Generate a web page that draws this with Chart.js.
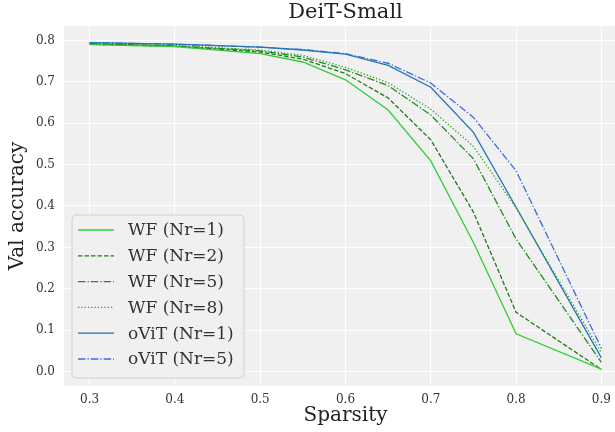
<!DOCTYPE html>
<html>
<head>
<meta charset="utf-8">
<script src="https://cdn.jsdelivr.net/npm/chart.js@4/dist/chart.umd.min.js"></script>
<style>
  html, body { margin: 0; padding: 0; background: #fff; overflow: hidden; }
  #wrap { width: 615px; height: 432px; overflow: hidden; }
</style>
</head>
<body>
<div id="wrap"><canvas id="chart" width="631" height="432"></canvas></div>
<script>
const sparsity = [0.3, 0.4, 0.5, 0.55, 0.6, 0.65, 0.7, 0.75, 0.8, 0.9];
const wfNr1 = [0.790, 0.785, 0.768, 0.748, 0.705, 0.632, 0.509, 0.312, 0.091, 0.006];
const wfNr2 = [0.791, 0.786, 0.772, 0.755, 0.720, 0.661, 0.560, 0.385, 0.143, 0.005];
const wfNr5 = [0.792, 0.787, 0.775, 0.760, 0.729, 0.691, 0.620, 0.514, 0.320, 0.022];
const wfNr8 = [0.792, 0.788, 0.777, 0.764, 0.735, 0.698, 0.634, 0.544, 0.395, 0.045];
const ovitNr1 = [0.795, 0.791, 0.784, 0.777, 0.767, 0.740, 0.687, 0.578, 0.397, 0.033];
const ovitNr5 = [0.795, 0.791, 0.784, 0.778, 0.768, 0.745, 0.697, 0.614, 0.485, 0.056];
const xTicks = [0.3, 0.4, 0.5, 0.6, 0.7, 0.8, 0.9];
const yTicks = [0.0, 0.1, 0.2, 0.3, 0.4, 0.5, 0.6, 0.7, 0.8];
const chartTitle = 'DeiT-Small';

const serif = "'DejaVu Serif', serif";
const pts = vals => vals.map((v, i) => ({ x: sparsity[i], y: v }));

function series(label, vals, color, dash) {
  return {
    label: label,
    data: pts(vals),
    borderColor: color,
    backgroundColor: color,
    borderWidth: 1.3,
    borderDash: dash,
    pointRadius: 0,
    tension: 0,
    fill: false
  };
}

// grey plot background + title centred over the (partly cropped) axes
const plotBg = {
  id: 'plotBg',
  beforeDraw(chart) {
    const a = chart.chartArea, c = chart.ctx;
    c.save();
    c.fillStyle = '#f0f0f0';
    c.fillRect(a.left, a.top, a.right - a.left, a.bottom - a.top);
    c.fillStyle = '#222';
    c.font = '21px ' + serif;
    c.textAlign = 'center';
    c.textBaseline = 'middle';
    c.fillText(chartTitle, (a.left + a.right) / 2, 13);
    c.restore();
  }
};

// legend inside the plot, lower left
const innerLegend = {
  id: 'innerLegend',
  afterDraw(chart) {
    const c = chart.ctx;
    const x0 = 72, y0 = 215, w = 172, h = 163;
    c.save();
    c.beginPath();
    c.roundRect(x0, y0, w, h, 4);
    c.fillStyle = 'rgba(240,240,240,0.85)';
    c.fill();
    c.strokeStyle = '#d0d0d0';
    c.lineWidth = 1;
    c.stroke();
    c.font = '17px ' + serif;
    c.textBaseline = 'middle';
    chart.data.datasets.forEach((ds, i) => {
      const y = 230 + i * 25.8;
      c.beginPath();
      c.setLineDash(ds.borderDash || []);
      c.strokeStyle = ds.borderColor;
      c.lineWidth = ds.borderWidth;
      c.moveTo(78, y);
      c.lineTo(114, y);
      c.stroke();
      c.setLineDash([]);
      c.fillStyle = '#333';
      c.fillText(ds.label, 128, y + 1);
    });
    c.restore();
  }
};

const ctx = document.getElementById('chart').getContext('2d');
new Chart(ctx, {
  type: 'line',
  data: {
    datasets: [
      series('WF (Nr=1)', wfNr1, '#32cd32', []),
      series('WF (Nr=2)', wfNr2, '#1f7a1f', [4.5, 2]),
      series('WF (Nr=5)', wfNr5, '#228b22', [7.5, 2, 1.3, 2]),
      series('WF (Nr=8)', wfNr8, '#2ca02c', [1.3, 2]),
      series('oViT (Nr=1)', ovitNr1, '#1f77b4', []),
      series('oViT (Nr=5)', ovitNr5, '#4169e1', [7.5, 2, 1.3, 2])
    ]
  },
  options: {
    responsive: false,
    animation: false,
    layout: { padding: { left: 0, right: 4, top: 26, bottom: 0 } },
    plugins: {
      legend: { display: false },
      tooltip: { enabled: false },
      title: { display: false }
    },
    scales: {
      x: {
        type: 'linear',
        min: 0.27,
        max: 0.93,
        afterBuildTicks: s => { s.ticks = xTicks.map(v => ({ value: v })); },
        afterFit: s => { s.height = 46; },
        grid: { color: '#ffffff', lineWidth: 1, drawTicks: false },
        border: { display: false },
        ticks: {
          padding: 7,
          color: '#333',
          font: { family: serif, size: 12 },
          callback: v => v.toFixed(1)
        },
        title: {
          display: true,
          text: 'Sparsity',
          color: '#222',
          font: { family: serif, size: 20 },
          padding: { top: 0, bottom: 4 }
        }
      },
      y: {
        type: 'linear',
        min: -0.035,
        max: 0.835,
        afterBuildTicks: s => { s.ticks = yTicks.map(v => ({ value: v })); },
        afterFit: s => { s.width = 64; },
        grid: { color: '#ffffff', lineWidth: 1, drawTicks: false },
        border: { display: false },
        ticks: {
          padding: 9,
          color: '#333',
          font: { family: serif, size: 12 },
          callback: v => v.toFixed(1)
        },
        title: {
          display: true,
          text: 'Val accuracy',
          color: '#222',
          font: { family: serif, size: 20 },
          padding: { top: 6, bottom: 2 }
        }
      }
    }
  },
  plugins: [plotBg, innerLegend]
});
</script>
</body>
</html>
